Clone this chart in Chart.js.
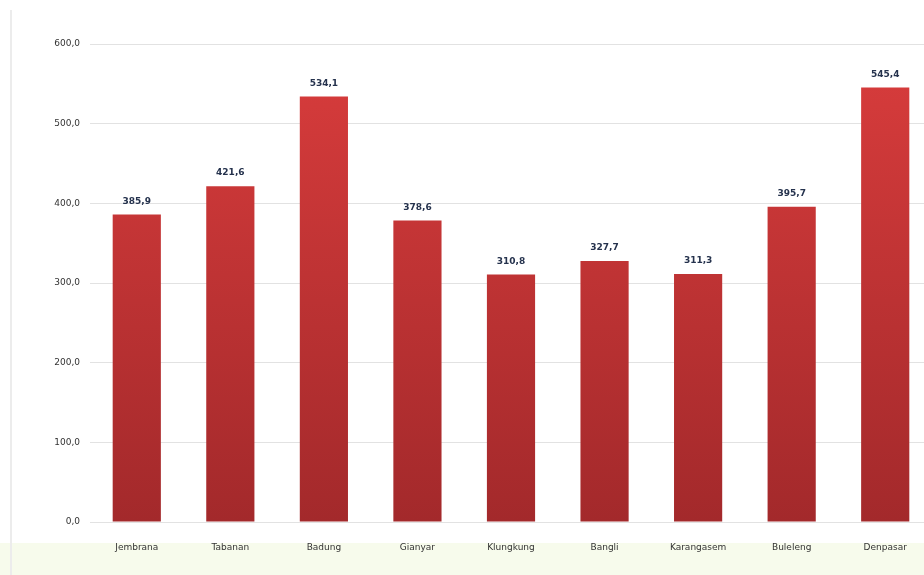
<!DOCTYPE html>
<html>
<head>
<meta charset="utf-8">
<script src="https://cdn.jsdelivr.net/npm/chart.js@4/dist/chart.umd.min.js"></script>
<style>
  html, body { margin: 0; padding: 0; width: 924px; height: 575px; overflow: hidden; background: #ffffff; }
  #wrap { position: absolute; left: 0; top: 0; width: 924px; height: 575px; overflow: hidden; }
  #band { position: absolute; left: 0; top: 543px; width: 924px; height: 32px; background: #f7fbec; }
  #leftline { position: absolute; left: 10px; top: 10px; width: 2px; height: 565px; background: #ececec; }
  #holder { position: absolute; left: 0; top: 0; width: 932px; height: 575px; }
</style>
</head>
<body>
<div id="wrap">
  <div id="band"></div>
  <div id="leftline"></div>
  <div id="holder"><canvas id="c" width="932" height="575"></canvas></div>
</div>
<script>
const categories = ["Jembrana", "Tabanan", "Badung", "Gianyar", "Klungkung", "Bangli", "Karangasem", "Buleleng", "Denpasar"];
const values = [385.9, 421.6, 534.1, 378.6, 310.8, 327.7, 311.3, 395.7, 545.4];
const yTicks = [0, 100, 200, 300, 400, 500, 600];

const fmt = v => v.toFixed(1).replace('.', ',');

const labelPlugin = {
  id: 'valueLabels',
  afterDatasetsDraw(chart) {
    const ctx = chart.ctx;
    const meta = chart.getDatasetMeta(0);
    ctx.save();
    ctx.font = 'bold 9px "DejaVu Sans"';
    ctx.fillStyle = '#25324d';
    ctx.textAlign = 'center';
    ctx.textBaseline = 'middle';
    meta.data.forEach((bar, i) => {
      ctx.fillText(fmt(values[i]), bar.x, bar.y - 13);
    });
    ctx.restore();
  }
};

const ctx = document.getElementById('c').getContext('2d');
const grad = ctx.createLinearGradient(0, 80, 0, 522);
grad.addColorStop(0, '#d53b3b');
grad.addColorStop(1, '#a3292b');

new Chart(ctx, {
  type: 'bar',
  data: {
    labels: categories,
    datasets: [{
      data: values,
      backgroundColor: grad,
      borderWidth: 0,
      categoryPercentage: 1,
      barPercentage: 0.515
    }]
  },
  options: {
    responsive: false,
    animation: false,
    layout: { padding: { top: 44, right: 0, bottom: 0, left: 0 } },
    plugins: { legend: { display: false }, tooltip: { enabled: false } },
    scales: {
      x: {
        grid: { display: false, drawTicks: false },
        border: { display: false },
        ticks: { color: '#333', font: { family: 'DejaVu Sans', size: 9 }, padding: 20, maxRotation: 0 },
        afterFit(s) { s.height = 53; }
      },
      y: {
        min: 0, max: 600,
        afterBuildTicks(s) { s.ticks = yTicks.map(v => ({ value: v })); },
        grid: { color: '#e2e2e2', drawTicks: false },
        border: { display: false },
        ticks: { color: '#333', font: { family: 'DejaVu Sans', size: 9 }, padding: 10, callback: v => fmt(v) },
        afterFit(s) { s.width = 90; }
      }
    }
  },
  plugins: [labelPlugin]
});
</script>
</body>
</html>
